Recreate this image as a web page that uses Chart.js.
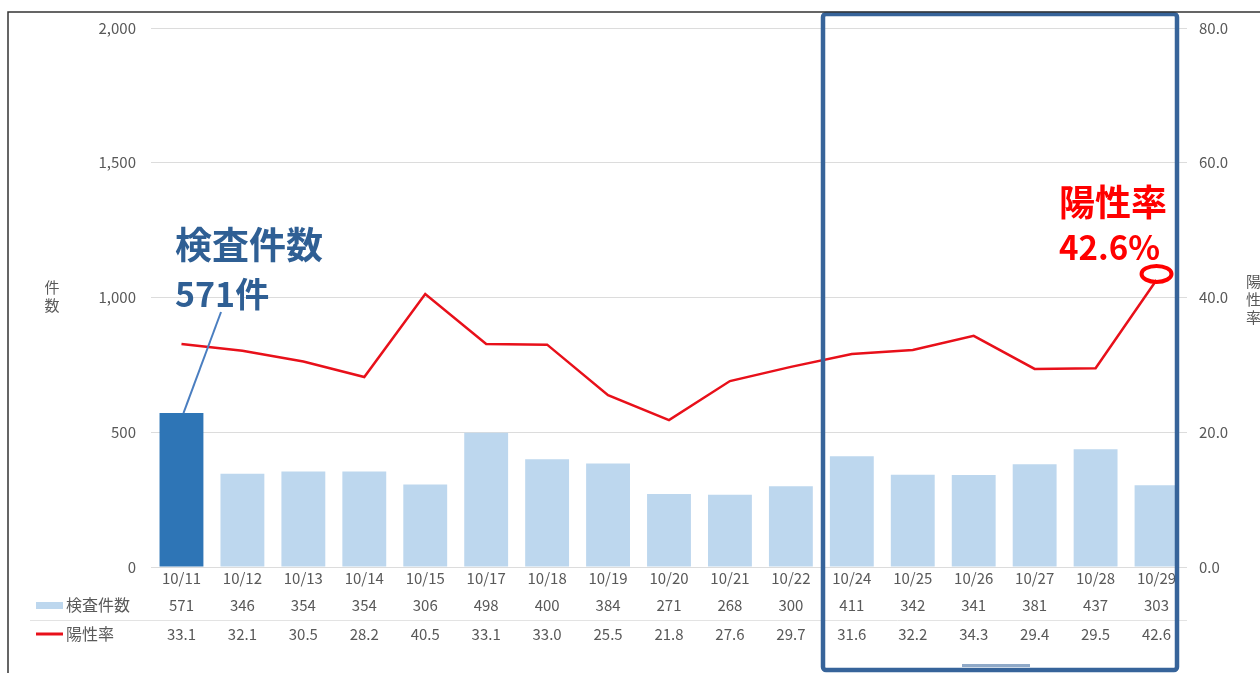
<!DOCTYPE html>
<html lang="ja">
<head>
<meta charset="utf-8">
<title>検査件数と陽性率</title>
<script src="https://cdn.jsdelivr.net/npm/chart.js@4"></script>
<style>
  body { margin: 0; background: #fff; }
  #chart { display: block; }
</style>
</head>
<body>
<canvas id="chart" width="1260" height="673"></canvas>
<script>
const labels = ['10/11','10/12','10/13','10/14','10/15','10/17','10/18','10/19','10/20','10/21','10/22','10/24','10/25','10/26','10/27','10/28','10/29'];
const testCounts = [571, 346, 354, 354, 306, 498, 400, 384, 271, 268, 300, 411, 342, 341, 381, 437, 303];
const positiveRates = [33.1, 32.1, 30.5, 28.2, 40.5, 33.1, 33.0, 25.5, 21.8, 27.6, 29.7, 31.6, 32.2, 34.3, 29.4, 29.5, 42.6];
const countTicks = [0, 500, 1000, 1500, 2000];
const rateTicks = [0, 20, 40, 60, 80];

const FONT = '"Noto Sans CJK JP", "Noto Sans", sans-serif';
const GREY = '#595959';
const BAR_LIGHT = '#BDD7EE';
const BAR_DARK = '#2E75B6';
const RED = '#E8101A';

const barColors = testCounts.map((v, i) => i === 0 ? BAR_DARK : BAR_LIGHT);

// table under the x axis + the hand-drawn annotations
const overlayPlugin = {
  id: 'overlay',
  afterDraw(chart) {
    const ctx = chart.ctx;
    const x = chart.scales.x;
    const y1 = chart.scales.y1;
    const area = chart.chartArea;
    ctx.save();

    // table rows
    const rowCount = 605, rowRate = 634;
    ctx.strokeStyle = '#e3e3e3';
    ctx.lineWidth = 1;
    ctx.beginPath();
    ctx.moveTo(30, 620.5);
    ctx.lineTo(area.right, 620.5);
    ctx.stroke();

    ctx.fillStyle = BAR_LIGHT;
    ctx.fillRect(36, rowCount - 3, 27, 7);
    ctx.strokeStyle = RED;
    ctx.lineWidth = 3;
    ctx.beginPath();
    ctx.moveTo(36, rowRate);
    ctx.lineTo(63, rowRate);
    ctx.stroke();

    ctx.font = '16px ' + FONT;
    ctx.fillStyle = GREY;
    ctx.textBaseline = 'middle';
    ctx.textAlign = 'left';
    ctx.fillText('検査件数', 66, rowCount);
    ctx.fillText('陽性率', 66, rowRate);

    ctx.font = '15px ' + FONT;
    ctx.textAlign = 'center';
    labels.forEach((l, i) => {
      const px = x.getPixelForValue(i);
      ctx.fillText(String(testCounts[i]), px, rowCount);
      ctx.fillText(positiveRates[i].toFixed(1), px, rowRate);
    });

    // axis titles (vertical)
    ctx.font = '15px ' + FONT;
    ctx.fillText('件', 52, 287);
    ctx.fillText('数', 52, 305);
    ctx.textAlign = 'left';
    ctx.fillText('陽', 1246, 281);
    ctx.fillText('性', 1246, 299);
    ctx.fillText('率', 1246, 317);

    // annotation: test count
    const firstX = x.getPixelForValue(0);
    const firstTop = chart.scales.y.getPixelForValue(testCounts[0]);
    ctx.strokeStyle = '#4A7EC0';
    ctx.lineWidth = 2;
    ctx.beginPath();
    ctx.moveTo(221, 312);
    ctx.lineTo(firstX + 2, firstTop);
    ctx.stroke();

    ctx.fillStyle = '#2F5F94';
    ctx.font = 'bold 37px ' + FONT;
    ctx.textAlign = 'left';
    ctx.textBaseline = 'alphabetic';
    ctx.fillText('検査件数', 175, 259);
    ctx.font = 'bold 34px ' + FONT;
    ctx.fillText('571件', 175, 307);

    // annotation: positive rate
    const lastX = x.getPixelForValue(labels.length - 1);
    const lastY = y1.getPixelForValue(positiveRates[positiveRates.length - 1]);
    ctx.fillStyle = '#FF0000';
    ctx.font = 'bold 36px ' + FONT;
    ctx.fillText('陽性率', 1059, 216);
    ctx.font = 'bold 33px ' + FONT;
    ctx.fillText('42.6%', 1059, 260);
    ctx.strokeStyle = '#FF0000';
    ctx.lineWidth = 4;
    ctx.beginPath();
    ctx.ellipse(lastX, lastY - 6, 15, 8, 0, 0, Math.PI * 2);
    ctx.stroke();

    // highlight box
    ctx.strokeStyle = '#37649A';
    ctx.lineWidth = 4.5;
    ctx.beginPath();
    ctx.roundRect(823, 14, 354, 656, 3);
    ctx.stroke();

    // little scroll marker at the bottom
    ctx.fillStyle = '#8FA9C8';
    ctx.fillRect(962, 664, 68, 3);

    // outer frame (top / left)
    ctx.strokeStyle = '#333';
    ctx.lineWidth = 1.5;
    ctx.beginPath();
    ctx.moveTo(8, 673);
    ctx.lineTo(8, 12);
    ctx.lineTo(1260, 12);
    ctx.stroke();

    ctx.restore();
  }
};

new Chart(document.getElementById('chart').getContext('2d'), {
  data: {
    labels: labels,
    datasets: [
      {
        type: 'line',
        label: '陽性率',
        data: positiveRates,
        yAxisID: 'y1',
        borderColor: RED,
        borderWidth: 2.5,
        pointRadius: 0,
        tension: 0,
        order: 0
      },
      {
        type: 'bar',
        label: '検査件数',
        data: testCounts,
        yAxisID: 'y',
        backgroundColor: barColors,
        categoryPercentage: 0.8,
        barPercentage: 0.9,
        order: 1
      }
    ]
  },
  options: {
    responsive: false,
    animation: false,
    layout: { padding: { top: 28, left: 0, right: 0, bottom: 0 } },
    plugins: {
      legend: { display: false },
      tooltip: { enabled: false }
    },
    scales: {
      x: {
        grid: { display: false, drawTicks: false },
        border: { display: false },
        ticks: { color: GREY, font: { size: 15, family: FONT }, padding: 2, maxRotation: 0, autoSkip: false },
        afterFit: s => { s.height = 106; }
      },
      y: {
        position: 'left',
        min: 0,
        max: 2000,
        afterBuildTicks: s => { s.ticks = countTicks.map(v => ({ value: v })); },
        grid: { color: '#dcdcdc', drawTicks: false },
        border: { display: false },
        ticks: {
          color: GREY,
          font: { size: 15, family: FONT },
          padding: 15,
          callback: v => v.toLocaleString('en-US')
        },
        afterFit: s => { s.width = 151; }
      },
      y1: {
        position: 'right',
        min: 0,
        max: 80,
        afterBuildTicks: s => { s.ticks = rateTicks.map(v => ({ value: v })); },
        grid: { drawOnChartArea: false, drawTicks: false },
        border: { display: false },
        ticks: {
          color: GREY,
          font: { size: 15, family: FONT },
          padding: 12,
          callback: v => Number(v).toFixed(1)
        },
        afterFit: s => { s.width = 73; }
      }
    }
  },
  plugins: [overlayPlugin]
});
</script>
</body>
</html>
